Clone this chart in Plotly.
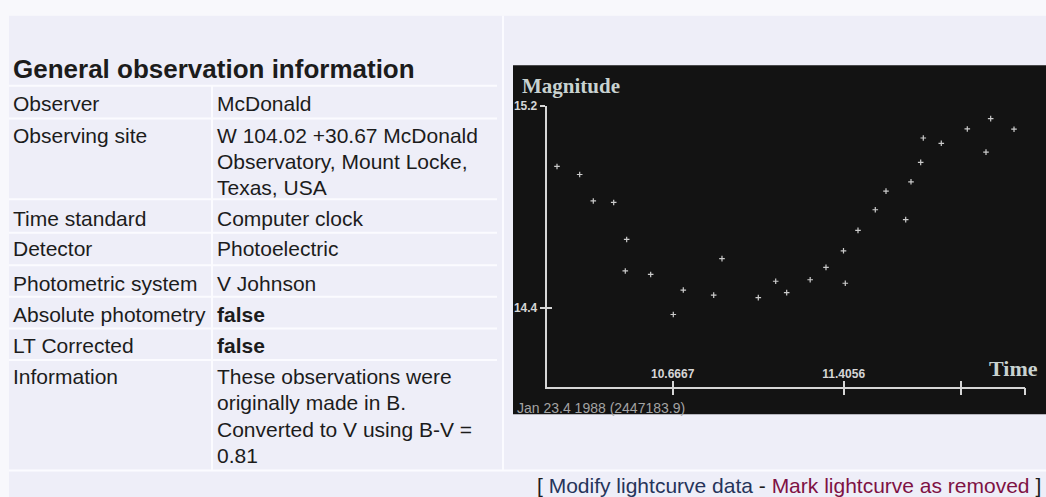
import plotly.graph_objects as go

# ---- data ----
time = [10.1668, 10.2648, 10.3236, 10.4118, 10.4619, 10.4679, 10.5716, 10.6693,
        10.7125, 10.8439, 10.8797, 11.0366, 11.1118, 11.1593, 11.2608, 11.3291,
        11.4047, 11.4125, 11.4674, 11.5421, 11.5884, 11.6735, 11.6964, 11.7383,
        11.7495, 11.8273, 11.9397, 12.0205, 12.0407, 12.1415, 12.2136]
magnitude = [14.961, 14.929, 14.824, 14.818, 14.546, 14.671, 14.532, 14.373,
             14.470, 14.450, 14.595, 14.440, 14.505, 14.460, 14.511, 14.560,
             14.626, 14.497, 14.707, 14.789, 14.863, 14.750, 14.900, 14.977,
             15.074, 15.053, 15.110, 15.018, 15.151, 15.109, 15.174]
x_ticks = [10.6667, 11.4056, 11.9124, 12.1903]
x_tick_labels = ["10.6667", "11.4056", "", ""]
y_ticks = [14.4, 15.2]
y_tick_labels = ["14.4", "15.2"]
x_range = [10.1223, 12.1903]
y_range = [14.0867, 15.2]

table_title = "General observation information"
row_labels = ["Observer", "Observing site", "Time standard", "Detector",
              "Photometric system", "Absolute photometry", "LT Corrected", "Information"]
row_values = [["McDonald"],
              ["W 104.02 +30.67 McDonald", "Observatory, Mount Locke,", "Texas, USA"],
              ["Computer clock"],
              ["Photoelectric"],
              ["V Johnson"],
              ["<b>false</b>"],
              ["<b>false</b>"],
              ["These observations were", "originally made in B.",
               "Converted to V using B-V =", "0.81"]]

W, H = 1046, 497
def X(px): return px / W
def Y(py): return 1 - py / H

SANS = "Liberation Sans, Arial, sans-serif"
SERIF = "Liberation Serif, Times New Roman, serif"
LAV = "#eeeef8"
LINE = "#fbfbff"
TXT = "#1c1c1c"
AX = "#d6d6d6"

fig = go.Figure()
fig.add_trace(go.Scatter(
    x=time, y=magnitude, mode="markers", cliponaxis=False, showlegend=False,
    hoverinfo="skip",
    marker=dict(symbol="cross-thin", size=4, color="#cccccc",
                line=dict(width=1.2, color="#cccccc"))))
fig.add_trace(go.Scatter(x=[x_range[0]], y=[y_range[0]], xaxis="x2", yaxis="y2",
                         mode="markers", marker=dict(opacity=0), showlegend=False,
                         hoverinfo="skip"))

shapes = []
# page background panels
shapes.append(dict(type="rect", xref="paper", yref="paper", x0=X(9), x1=X(1046),
                   y0=Y(497), y1=Y(9), fillcolor=LAV, line=dict(width=0), layer="below"))
# table lines
row_lines = [80, 113, 195, 229, 262, 294, 326, 358]
for ry in row_lines:
    shapes.append(dict(type="line", xref="paper", yref="paper", x0=X(9), x1=X(497),
                       y0=Y(ry), y1=Y(ry), line=dict(color=LINE, width=2), layer="below"))
shapes.append(dict(type="line", xref="paper", yref="paper", x0=X(9), x1=X(1046),
                   y0=Y(470), y1=Y(470), line=dict(color=LINE, width=2), layer="below"))
shapes.append(dict(type="line", xref="paper", yref="paper", x0=X(212), x1=X(212),
                   y0=Y(80), y1=Y(470), line=dict(color=LINE, width=2), layer="below"))
shapes.append(dict(type="line", xref="paper", yref="paper", x0=X(503), x1=X(503),
                   y0=Y(9), y1=Y(470), line=dict(color=LINE, width=2), layer="below"))
# dark chart image area
shapes.append(dict(type="rect", xref="paper", yref="paper", x0=X(513), x1=X(1046),
                   y0=Y(413), y1=Y(59), fillcolor="#131313", line=dict(width=0),
                   layer="below"))

ann = []
def text(s, px, py, size=21, color=TXT, family=SANS, xanchor="left"):
    ann.append(dict(text=s, x=X(px), y=Y(py), xref="paper", yref="paper",
                    showarrow=False, xanchor=xanchor, yanchor="middle",
                    font=dict(family=family, size=size, color=color)))

text("<b>" + table_title + "</b>", 11, 63, size=26)
first_line = [98, 130, 215, 245, 280, 312, 343, 375]
for lab, vals, y0 in zip(row_labels, row_values, first_line):
    text(lab, 11, y0)
    for i, v in enumerate(vals):
        text(v, 215, y0 + i * 26.6)

# chart texts
text("<b>Magnitude</b>", 520, 80, size=21, color="#c8d2d0", family=SERIF)
text("<b>Time</b>", 987, 367, size=22, color="#c8d2d0", family=SERIF)
text("Jan 23.4 1988 (2447183.9)", 515, 407, size=14, color="#a4a4a4")

# footer links
ann.append(dict(
    text=("[ <span style='color:#26345a'>Modify lightcurve data</span> - "
          "<span style='color:#7e1244'>Mark lightcurve as removed</span> ]"),
    x=X(1043), y=Y(485), xref="paper", yref="paper", showarrow=False,
    xanchor="right", yanchor="middle", font=dict(family=SANS, size=21, color=TXT)))

xdom = [X(546.7), X(1025.3)]
ydom = [Y(385), Y(100.7)]
tickfont = dict(family=SANS, size=12, color=AX, weight="bold")

fig.update_layout(
    width=W, height=H, autosize=False,
    margin=dict(l=0, r=0, t=0, b=0),
    paper_bgcolor="#f8f8fc", plot_bgcolor="rgba(0,0,0,0)",
    shapes=shapes, annotations=ann,
    xaxis=dict(domain=xdom, range=x_range, anchor="y", showgrid=False, zeroline=False,
               showline=True, linecolor=AX, linewidth=2,
               tickmode="array", tickvals=x_ticks, ticktext=x_tick_labels,
               ticks="inside", ticklen=6, tickwidth=2, tickcolor=AX,
               ticklabelposition="inside", tickfont=tickfont, fixedrange=True),
    yaxis=dict(domain=ydom, range=y_range, anchor="x", showgrid=False, zeroline=False,
               showline=True, linecolor=AX, linewidth=2,
               tickmode="array", tickvals=y_ticks, ticktext=y_tick_labels,
               ticks="outside", ticklen=5, tickwidth=2, tickcolor=AX,
               tickfont=tickfont, fixedrange=True),
    xaxis2=dict(domain=xdom, range=x_range, anchor="y", overlaying="x", side="bottom",
                showgrid=False, zeroline=False, showline=False,
                tickmode="array", tickvals=x_ticks, showticklabels=False,
                ticks="outside", ticklen=7, tickwidth=2, tickcolor=AX, fixedrange=True),
    yaxis2=dict(domain=ydom, range=y_range, anchor="x", overlaying="y", side="left",
                showgrid=False, zeroline=False, showline=False,
                tickmode="array", tickvals=y_ticks, showticklabels=False,
                ticks="inside", ticklen=5, tickwidth=2, tickcolor=AX, fixedrange=True),
)

post = ("document.documentElement.style.margin='0';"
        "document.body.style.margin='0';document.body.style.padding='0';"
        "document.body.style.overflow='hidden';"
        "var d=document.getElementById('{plot_id}');"
        "d.style.position='fixed';d.style.left='0px';d.style.top='0px';")
fig.write_html("out.html", config={"displayModeBar": False}, post_script=post)
